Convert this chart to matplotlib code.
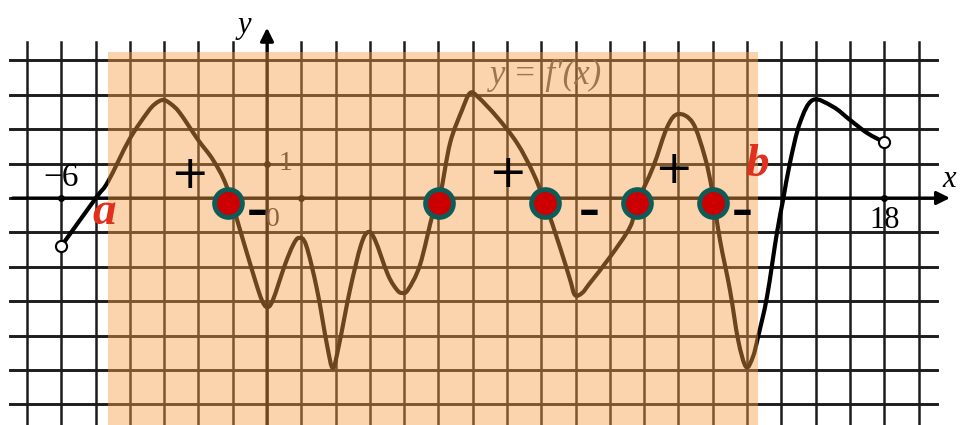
import matplotlib
matplotlib.use("Agg")
import matplotlib.pyplot as plt
from matplotlib.patches import Rectangle, PathPatch
from matplotlib.path import Path

# curve y = f'(x)
curve_x = [-6.0, -4.99, -4.64, -4.02, -3.5, -3.27, -3.03, -2.8, -2.54, -2.01, -1.57, -1.17,
           -0.7, -0.35, -0.15, 0.0, 0.17, 0.52, 0.76, 0.93, 1.14, 1.46, 1.75, 1.92, 2.1,
           2.42, 2.74, 2.95, 3.15, 3.53, 3.79, 3.94, 4.11, 4.46, 4.84, 5.05, 5.34, 5.69,
           5.92, 6.15, 6.71, 7.29, 7.76, 8.11, 8.54, 8.84, 8.98, 9.19, 9.42, 10.0, 10.59,
           10.79, 11.26, 11.67, 11.99, 12.42, 12.77, 12.98, 13.21, 13.5, 13.74, 13.97,
           14.17, 14.32, 14.58, 14.87, 15.05, 15.25, 15.54, 15.92, 16.51, 17.0, 17.5, 18.0]
curve_y = [-1.4, 0.0, 0.47, 1.69, 2.47, 2.73, 2.85, 2.73, 2.47, 1.69, 1.1, 0.32,
           -1.22, -2.38, -2.97, -3.17, -2.97, -1.95, -1.37, -1.16, -1.37, -2.67, -4.27, -4.94, -4.27,
           -2.67, -1.37, -0.99, -1.22, -2.24, -2.67, -2.76, -2.67, -1.95, -0.44, 0.09, 1.6, 2.56,
           3.05, 2.94, 2.35, 1.6, 0.73, -0.15, -1.42, -2.38, -2.82, -2.76, -2.47, -1.72, -0.84,
           -0.15, 0.9, 2.06, 2.44, 2.18, 1.19, 0.23, -1.22, -2.67, -4.13, -4.91,
           -4.62, -4.04, -2.88, -1.02, -0.06, 1.02, 2.18, 2.85, 2.65, 2.27, 1.89, 1.62]

zero_x = [-1.14, 5.02, 8.11, 10.79, 13.0]
zero_y = [-0.15, -0.15, -0.15, -0.15, -0.15]

plus_x = [-2.27, 7.0, 11.84]
plus_y = [0.64, 0.67, 0.81]
minus_x = [-0.29, 9.39, 13.85]
minus_y = [-0.41, -0.41, -0.41]

a_x, b_x = -4.64, 14.32
grid_x = list(range(-7, 20))
grid_y = list(range(-6, 5))

serif = ['Liberation Serif', 'DejaVu Serif']
gridc = '#1c1c1c'

fig = plt.figure(figsize=(9.61, 4.25), dpi=100)
ax = fig.add_axes([0, 0, 1, 1])
ax.set_xlim(-267 / 34.29, (961 - 267) / 34.29)
ax.set_ylim((198 - 425) / 34.4, 198 / 34.4)
ax.axis('off')

for gx in grid_x:
    ax.plot([gx, gx], [-7, 4.53], color=gridc, lw=1.8, zorder=1)
for gy in grid_y:
    ax.plot([-7.5, 19.54], [gy, gy], color=gridc, lw=2.1, zorder=1)

# axes with arrows
ax.annotate('', xy=(20.0, 0), xytext=(-7.5, 0),
            arrowprops=dict(arrowstyle='-|>', lw=2.2, color='k', mutation_scale=20), zorder=2)
ax.annotate('', xy=(0, 5.03), xytext=(0, -7),
            arrowprops=dict(arrowstyle='-|>', lw=2.2, color='k', mutation_scale=20), zorder=2)
ax.plot([-6, 1, 18, 0], [0, 0, 0, 1], 'o', color='k', ms=4, zorder=2)

# smooth curve through the read points (cubic Bezier pieces)
pts = list(zip(curve_x, curve_y))
verts = [pts[0]]
codes = [Path.MOVETO]
n = len(pts)
for i in range(n - 1):
    p0 = pts[i - 1] if i > 0 else pts[i]
    p1 = pts[i]
    p2 = pts[i + 1]
    p3 = pts[i + 2] if i + 2 < n else pts[i + 1]
    c1 = (p1[0] + (p2[0] - p0[0]) / 6, p1[1] + (p2[1] - p0[1]) / 6)
    c2 = (p2[0] - (p3[0] - p1[0]) / 6, p2[1] - (p3[1] - p1[1]) / 6)
    verts += [c1, c2, p2]
    codes += [Path.CURVE4] * 3
ax.add_patch(PathPatch(Path(verts, codes), fill=False, edgecolor='k', lw=3.0,
                       capstyle='round', joinstyle='round', zorder=3))
ax.plot([curve_x[0], curve_x[-1]], [curve_y[0], curve_y[-1]], 'o', ms=8,
        mfc='white', mec='k', mew=1.5, zorder=4)

ax.text(-6.0, 0.6, '\u22126', family=serif, fontsize=24, ha='center', va='center', zorder=4)
ax.text(18.0, -0.65, '18', family=serif, fontsize=22, ha='center', va='center', zorder=4)
ax.text(0.55, 1.0, '1', family=serif, fontsize=20, ha='center', va='center', color='#333', zorder=4)
ax.text(0.17, -0.62, '0', family=serif, fontsize=20, ha='center', va='center', color='#333', zorder=4)
ax.text(8.13, 3.55, 'y = f\u2032(x)', family=serif, style='italic', fontsize=25,
        ha='center', va='center', color='#555', zorder=4)
ax.text(-0.65, 5.0, 'y', family=serif, style='italic', fontsize=22, ha='center',
        va='center', zorder=4)
ax.text(19.9, 0.55, 'x', family=serif, style='italic', fontsize=22, ha='center',
        va='center', zorder=4)

ax.add_patch(Rectangle((a_x, -7), b_x - a_x, 7 + 4.24, facecolor=(248 / 255, 158 / 255, 68 / 255),
                       alpha=0.44, lw=0, zorder=5))

ax.plot(zero_x, zero_y, 'o', ms=20, mfc='#cc0000', mec='#0d5c58', mew=3.5, zorder=6)
for px, py in zip(plus_x, plus_y):
    ax.text(px, py, '+', fontsize=33, ha='center', va='center', color='k', zorder=7)
for mx, my in zip(minus_x, minus_y):
    ax.text(mx, my, '\u2013', fontsize=30, fontweight='bold', ha='center', va='center',
            color='k', zorder=7)

ax.text(-4.75, -0.45, 'a', family=serif, style='italic', fontweight='bold', fontsize=34,
        color='#e0301e', ha='center', va='center', zorder=7)
ax.text(14.3, 0.95, 'b', family=serif, style='italic', fontweight='bold', fontsize=34,
        color='#e0301e', ha='center', va='center', zorder=7)

fig.savefig('out.png', dpi=100)
